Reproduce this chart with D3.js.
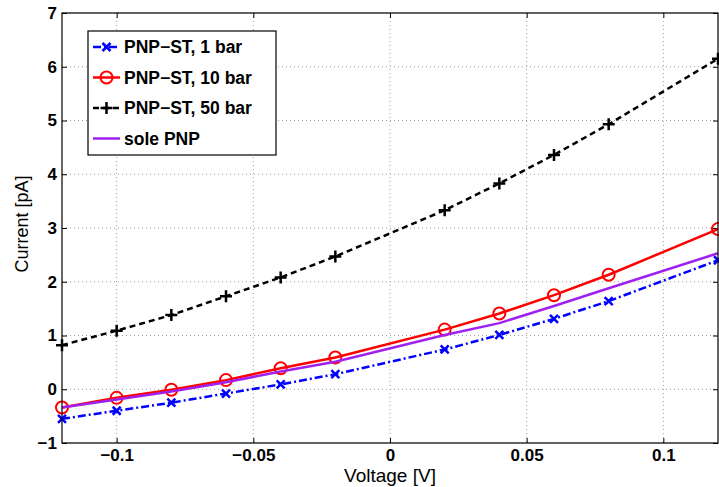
<!DOCTYPE html>
<html>
<head>
<meta charset="utf-8">
<script src="https://cdn.jsdelivr.net/npm/d3@7"></script>
<style>
  body { margin: 0; background: #fff; }
  text { font-family: "Liberation Sans", Arial, Helvetica, sans-serif; }
</style>
</head>
<body>
<div id="chart"></div>
<script>
// voltage steps (no point at 0 V and 0.1 V)
var voltage = [-0.12, -0.1, -0.08, -0.06, -0.04, -0.02, 0.02, 0.04, 0.06, 0.08, 0.12];
var bar1  = [-0.55, -0.40, -0.25, -0.08, 0.09, 0.28, 0.74, 1.01, 1.31, 1.64, 2.40];
var bar10 = [-0.34, -0.16, -0.01, 0.17, 0.39, 0.59, 1.11, 1.41, 1.75, 2.13, 2.98];
var bar50 = [0.82, 1.09, 1.38, 1.73, 2.08, 2.47, 3.33, 3.83, 4.36, 4.93, 6.15];
var solePNP = [-0.34, -0.19, -0.04, 0.13, 0.33, 0.51, 1.01, 1.23, 1.55, 1.88, 2.53];

var xTicks = [-0.1, -0.05, 0, 0.05, 0.1];
var yTicks = [-1, 0, 1, 2, 3, 4, 5, 6, 7];

var series = [
  { name: "PNP\u2212ST, 1 bar",  values: bar1,  color: "#0000ff", dash: "8,3,2,3", marker: "x" },
  { name: "PNP\u2212ST, 10 bar", values: bar10, color: "#ff0000", dash: null,      marker: "o" },
  { name: "PNP\u2212ST, 50 bar", values: bar50, color: "#000000", dash: "6,4",     marker: "+" },
  { name: "sole PNP",            values: solePNP, color: "#a020f0", dash: null,   marker: null }
];

var W = 719, H = 487;
var margin = {top: 13, right: 1, bottom: 44, left: 62};
var width = W - margin.left - margin.right,
    height = H - margin.top - margin.bottom;

var svg = d3.select("#chart").append("svg")
    .attr("width", W)
    .attr("height", H);

var g = svg.append("g")
    .attr("transform", "translate(" + margin.left + "," + margin.top + ")");

var x = d3.scaleLinear().domain([-0.12, 0.12]).range([0, width]);
var y = d3.scaleLinear().domain([-1, 7]).range([height, 0]);

var fmt = function(d) { return d3.format("")(d).replace("-", "\u2212"); };

// grid
g.append("g").selectAll("line")
    .data(xTicks)
  .enter().append("line")
    .attr("x1", function(d) { return x(d); })
    .attr("x2", function(d) { return x(d); })
    .attr("y1", 0).attr("y2", height)
    .attr("stroke", "#a0a0a0")
    .attr("stroke-dasharray", "1,3");

g.append("g").selectAll("line")
    .data(yTicks)
  .enter().append("line")
    .attr("y1", function(d) { return y(d); })
    .attr("y2", function(d) { return y(d); })
    .attr("x1", 0).attr("x2", width)
    .attr("stroke", "#a0a0a0")
    .attr("stroke-dasharray", "1,3");

// axes with inward ticks
var xAxis = d3.axisBottom(x).tickValues(xTicks).tickSize(-5).tickPadding(6).tickFormat(fmt);
var yAxis = d3.axisLeft(y).tickValues(yTicks).tickSize(-5).tickPadding(5).tickFormat(fmt);

function styleTicks(a) {
  a.select(".domain").remove();
  a.selectAll("text").attr("font-size", 17).attr("font-weight", "bold")
    .attr("font-family", "Liberation Sans, Arial, sans-serif").attr("fill", "#000");
}

g.append("g")
    .attr("transform", "translate(0," + height + ")")
    .call(xAxis)
    .call(styleTicks);

g.append("g")
    .call(yAxis)
    .call(styleTicks);

// top and right ticks
g.append("g").call(d3.axisTop(x).tickValues(xTicks).tickSize(-5).tickFormat(""))
    .call(function(a) { a.select(".domain").remove(); });
g.append("g").attr("transform", "translate(" + width + ",0)")
    .call(d3.axisRight(y).tickValues(yTicks).tickSize(-5).tickFormat(""))
    .call(function(a) { a.select(".domain").remove(); });

var line = d3.line()
    .x(function(d, i) { return x(voltage[i]); })
    .y(function(d) { return y(d); });

function drawMarker(sel, type, color) {
  if (type === "x") {
    sel.append("path").attr("d", "M-4,-4L4,4M-4,4L4,-4")
      .attr("stroke", color).attr("stroke-width", 2.5).attr("fill", "none");
  } else if (type === "o") {
    sel.append("circle").attr("r", 6)
      .attr("stroke", color).attr("stroke-width", 2).attr("fill", "none");
  } else if (type === "+") {
    sel.append("path").attr("d", "M-6,0L6,0M0,-6L0,6")
      .attr("stroke", color).attr("stroke-width", 2.5).attr("fill", "none");
  }
}

// draw order: 1 bar, 10 bar, 50 bar, sole PNP
series.forEach(function(s) {
  g.append("path")
      .datum(s.values)
      .attr("d", line)
      .attr("fill", "none")
      .attr("stroke", s.color)
      .attr("stroke-width", 2.5)
      .attr("stroke-dasharray", s.dash);

  if (s.marker) {
    g.selectAll(null)
        .data(s.values)
      .enter().append("g")
        .attr("transform", function(d, i) { return "translate(" + x(voltage[i]) + "," + y(d) + ")"; })
        .each(function() { drawMarker(d3.select(this), s.marker, s.color); });
  }
});

// frame
g.append("rect")
    .attr("width", width).attr("height", height)
    .attr("fill", "none").attr("stroke", "#000").attr("stroke-width", 1.2);

// axis labels
svg.append("text")
    .attr("x", margin.left + x(0))
    .attr("y", 482)
    .attr("text-anchor", "middle")
    .attr("font-size", 19)
    .text("Voltage [V]");

svg.append("text")
    .attr("transform", "translate(28," + (margin.top + height / 2 - 4) + ") rotate(-90)")
    .attr("text-anchor", "middle")
    .attr("font-size", 18)
    .text("Current [pA]");

// legend
var lg = svg.append("g").attr("transform", "translate(88,31)");
lg.append("rect")
    .attr("width", 188).attr("height", 124)
    .attr("fill", "#fff").attr("stroke", "#000").attr("stroke-width", 1.2);

var item = lg.selectAll(".legend")
    .data(series)
  .enter().append("g")
    .attr("class", "legend")
    .attr("transform", function(d, i) { return "translate(0," + (16 + i * 30.5) + ")"; });

item.append("line")
    .attr("x1", 5).attr("x2", 32)
    .attr("stroke", function(d) { return d.color; })
    .attr("stroke-width", 2.5)
    .attr("stroke-dasharray", function(d) { return d.dash; });

item.each(function(d) {
  var m = d3.select(this).append("g").attr("transform", "translate(18.5,0)");
  drawMarker(m, d.marker, d.color);
});

item.append("text")
    .attr("x", 36)
    .attr("dy", "0.36em")
    .attr("font-size", 17.5)
    .attr("font-weight", "bold")
    .text(function(d) { return d.name; });
</script>
</body>
</html>
